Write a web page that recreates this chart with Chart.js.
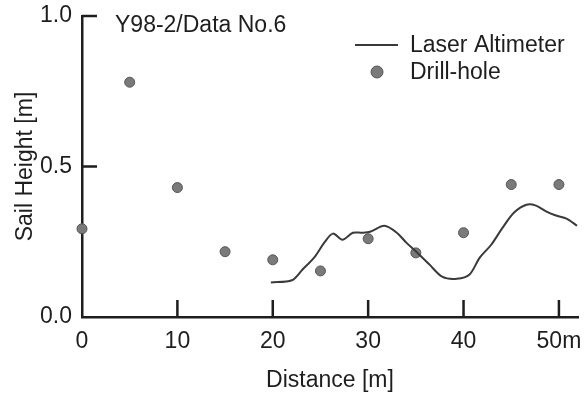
<!DOCTYPE html>
<html>
<head>
<meta charset="utf-8">
<script src="https://cdn.jsdelivr.net/npm/chart.js@4.4.0/dist/chart.umd.min.js"></script>
<style>
    html, body { margin: 0; padding: 0; background: #fff; }
</style>
</head>
<body>
<canvas id="sailChart" width="584" height="396"></canvas>
<script>
// Sail height profile - Y98-2 / Data No.6

const chartTitle = 'Y98-2/Data No.6';
const xTickValues = [0, 10, 20, 30, 40, 50];
const yTickValues = [0, 0.5, 1.0];

// Drill-hole measurements (distance [m], sail height [m])
const drillDistance = [0, 5, 10, 15, 20, 25, 30, 35, 40, 45, 50];
const drillHeight = [0.293, 0.78, 0.43, 0.217, 0.19, 0.153, 0.26, 0.213, 0.28, 0.44, 0.44];

// Laser altimeter profile
const laserDistance = [19.8, 22.0, 23.1, 24.4, 25.4, 26.3, 27.3, 28.4, 29.4, 30.2, 31.7, 33.0, 34.0, 35.1,
    36.4, 37.8, 39.3, 40.6, 41.7, 42.9, 44.1, 45.3, 46.6, 47.6, 48.7, 49.7, 50.8, 51.9];
const laserHeight = [0.115, 0.122, 0.157, 0.2, 0.247, 0.277, 0.257, 0.28, 0.28, 0.283, 0.303, 0.28, 0.247, 0.215,
    0.175, 0.133, 0.127, 0.14, 0.197, 0.24, 0.297, 0.347, 0.373, 0.37, 0.35, 0.337, 0.327, 0.303];

const ink = '#1e1e1e';
const fontFamily = '"Liberation Sans", Arial, Helvetica, sans-serif';
const fontSize = 23;

// Ticks point inward in the original, so they are drawn here instead of by the grid
const inwardTicks = {
    id: 'inwardTicks',
    afterDatasetsDraw(chart) {
        const { ctx } = chart;
        const { x, y } = chart.scales;
        ctx.save();
        ctx.strokeStyle = ink;
        ctx.lineWidth = 2.5;
        ctx.beginPath();
        x.ticks.forEach(t => {
            if (t.value === 0) return;
            const px = x.getPixelForValue(t.value);
            ctx.moveTo(px, y.bottom);
            ctx.lineTo(px, y.bottom - 17);
        });
        y.ticks.forEach(t => {
            if (t.value === 0) return;
            const py = y.getPixelForValue(t.value);
            ctx.moveTo(x.left, py);
            ctx.lineTo(x.left + 15, py);
        });
        ctx.stroke();
        ctx.restore();
    }
};

// Title and legend sit inside the plot area
const insideLabels = {
    id: 'insideLabels',
    afterDraw(chart) {
        const { ctx, chartArea } = chart;
        const [line, dots] = chart.data.datasets;
        ctx.save();
        ctx.fillStyle = ink;
        ctx.font = fontSize + 'px ' + fontFamily;
        ctx.textBaseline = 'middle';
        ctx.fillText(chartTitle, chartArea.left + 33, 26);

        // legend
        ctx.strokeStyle = line.borderColor;
        ctx.lineWidth = 2;
        ctx.beginPath();
        ctx.moveTo(355, 45);
        ctx.lineTo(398, 45);
        ctx.stroke();
        ctx.fillText(line.label, 410, 46);

        ctx.beginPath();
        ctx.arc(377, 72, 6, 0, Math.PI * 2);
        ctx.fillStyle = dots.backgroundColor;
        ctx.fill();
        ctx.strokeStyle = dots.borderColor;
        ctx.lineWidth = 1;
        ctx.stroke();
        ctx.fillStyle = ink;
        ctx.fillText(dots.label, 410, 73);
        ctx.restore();
    }
};

new Chart(document.getElementById('sailChart'), {
    type: 'scatter',
    data: {
        datasets: [{
            label: 'Laser Altimeter',
            data: laserDistance.map((d, i) => ({ x: d, y: laserHeight[i] })),
            showLine: true,
            borderColor: '#3a3a3a',
            borderWidth: 2,
            pointRadius: 0,
            tension: 0.3
        }, {
            label: 'Drill-hole',
            data: drillDistance.map((d, i) => ({ x: d, y: drillHeight[i] })),
            backgroundColor: '#7a7a7a',
            borderColor: '#555',
            borderWidth: 1,
            pointRadius: 5,
            clip: false
        }]
    },
    options: {
        responsive: false,
        animation: false,
        layout: {
            padding: { left: 0, top: 16, right: 6, bottom: 0 }
        },
        plugins: {
            legend: { display: false },
            tooltip: { enabled: false }
        },
        scales: {
            x: {
                type: 'linear',
                min: 0,
                max: 52,
                afterBuildTicks: scale => { scale.ticks = xTickValues.map(v => ({ value: v })); },
                afterFit: scale => {
                    scale.height = 79;
                    scale.paddingLeft = 0;
                    scale.paddingRight = 0;
                },
                ticks: {
                    color: ink,
                    padding: 11,
                    maxRotation: 0,
                    font: { family: fontFamily, size: fontSize },
                    callback: v => v === 50 ? '50m' : String(v)
                },
                grid: { drawOnChartArea: false, drawTicks: false },
                border: { color: ink, width: 2.5 },
                title: {
                    display: true,
                    text: 'Distance [m]',
                    color: ink,
                    font: { family: fontFamily, size: fontSize },
                    padding: { top: 0, bottom: 2 }
                }
            },
            y: {
                min: 0,
                max: 1,
                afterBuildTicks: scale => { scale.ticks = yTickValues.map(v => ({ value: v })); },
                afterFit: scale => {
                    scale.width = 82;
                    scale.paddingTop = 0;
                    scale.paddingBottom = 0;
                },
                ticks: {
                    color: ink,
                    padding: 10,
                    font: { family: fontFamily, size: fontSize },
                    callback: v => v.toFixed(1)
                },
                grid: { drawOnChartArea: false, drawTicks: false },
                border: { color: ink, width: 2.5 },
                title: {
                    display: true,
                    text: 'Sail Height [m]',
                    color: ink,
                    font: { family: fontFamily, size: fontSize },
                    padding: { top: 12, bottom: 0 }
                }
            }
        }
    },
    plugins: [inwardTicks, insideLabels]
});
</script>
</body>
</html>
